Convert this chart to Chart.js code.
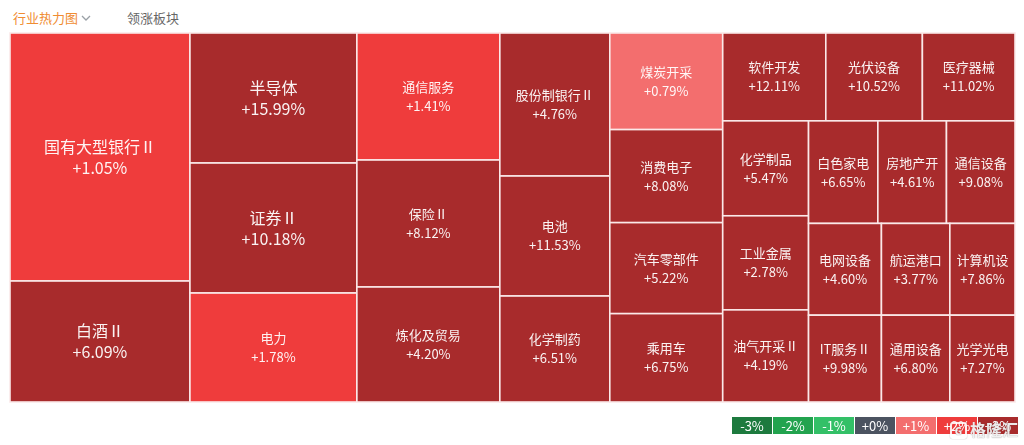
<!DOCTYPE html>
<html>
<head>
<meta charset="utf-8">
<title>行业热力图</title>
<script src="https://cdn.jsdelivr.net/npm/chart.js@4.4.1/dist/chart.umd.min.js"></script>
<style>
  html, body { margin: 0; padding: 0; background: #fff; }
  body { width: 1024px; height: 445px; position: relative; overflow: hidden;
         font-family: "Noto Sans CJK SC", "Noto Sans", sans-serif; }
  #heat { position: absolute; left: 0; top: 0; }
  .tab { position: absolute; top: 9px; font-size: 13px; line-height: 18px; }
  .tab.on { left: 13px; color: #f08c32; }
  .tab.off { left: 127px; color: #666; }
  .chev { position: absolute; left: 81px; top: 14px; }
  .scale { position: absolute; left: 732px; top: 417px; display: flex; }
  .scale span { width: 40px; height: 17px; margin-right: 1px; color: #fff; font-size: 13px;
                line-height: 17px; text-align: center; }
  .mark { position: absolute; left: 950px; top: 419px; color: rgba(255,255,255,0.88);
          font-size: 16px; line-height: 20px; font-weight: bold;
          text-shadow: 0 0 1px rgba(90,90,90,0.8); white-space: nowrap; }
  .mark b { display: inline-block; width: 13px; height: 13px; border: 2px solid rgba(255,255,255,0.88);
            border-radius: 3px; font-size: 10px; line-height: 13px; text-align: center; margin-right: 3px;
            box-shadow: 0 0 1px rgba(90,90,90,0.8); vertical-align: 1px; }
</style>
</head>
<body>
<div class="tab on">行业热力图</div>
<svg class="chev" width="10" height="8" viewBox="0 0 10 8"><path d="M1 2 L5 6 L9 2" fill="none" stroke="#9aa0a6" stroke-width="1.3"/></svg>
<div class="tab off">领涨板块</div>
<canvas id="heat" width="1024" height="445"></canvas>
<div class="scale" id="scale"></div>
<div class="mark"><b>G</b>格隆汇</div>
<script>
// Industry heat map: cell area = turnover, colour = day change bucket.
// Order matters: the squarified layout fills columns/rows in this order.
const sectors = ["国有大型银行Ⅱ", "白酒Ⅱ", "半导体", "证券Ⅱ", "电力", "通信服务", "保险Ⅱ", "炼化及贸易",
    "股份制银行Ⅱ", "电池", "化学制药", "煤炭开采", "消费电子", "汽车零部件", "乘用车",
    "软件开发", "光伏设备", "医疗器械", "化学制品", "工业金属", "油气开采Ⅱ",
    "白色家电", "房地产开发", "通信设备", "电网设备", "IT服务Ⅱ", "航运港口", "计算机设备", "通用设备", "光学光电"];
const changePct = [1.05, 6.09, 15.99, 10.18, 1.78, 1.41, 8.12, 4.20,
    4.76, 11.53, 6.51, 0.79, 8.08, 5.22, 6.75,
    12.11, 10.52, 11.02, 5.47, 2.78, 4.19,
    6.65, 4.61, 9.08, 4.60, 9.98, 3.77, 7.86, 6.80, 7.27];
const turnoverYi = [446.4, 217.8, 217.1, 217.1, 182.0, 181.6, 181.6, 164.5,
    157.3, 132.0, 116.6, 109.1, 105.1, 102.8, 99.8,
    90.6, 84.9, 81.4, 81.5, 80.8, 79.1,
    71.1, 70.4, 70.3, 66.9, 63.3, 62.8, 59.8, 59.4, 56.6];
const scaleTicks = [-3, -2, -1, 0, 1, 2, 3];
const scaleLabels = ["-3%", "-2%", "-1%", "+0%", "+1%", "+2%", "+3%"];

const scaleColors = ["#1d7a3e", "#22a34e", "#33c067", "#4b5360", "#f36e6e", "#ef3c3c", "#a82b2c"];
const AREA_W = 1005, AREA_H = 369;   // data units of the x / y scales

// bucket a change into the legend colour it belongs to (0.79 -> "+1%", 1.4 -> "+2%")
function heatColor(v) {
    if (v === 0) return scaleColors[3];
    const b = v > 0 ? Math.min(3, Math.ceil(v)) : Math.max(-3, Math.floor(v));
    return scaleColors[scaleTicks.indexOf(b)];
}

function worst(row, side) {
    const s = row.reduce((a, b) => a + b, 0);
    const mx = Math.max(...row), mn = Math.min(...row);
    return Math.max(side * side * mx / (s * s), (s * s) / (side * side * mn));
}

// plain squarified treemap (Bruls et al.), in scale units
function squarify(values, x, y, w, h) {
    const total = values.reduce((a, b) => a + b, 0);
    const areas = values.map(v => v * w * h / total);
    const out = [];
    let i = 0;
    while (i < areas.length) {
        const side = Math.min(w, h);
        const row = [areas[i]];
        let best = worst(row, side), j = i + 1;
        while (j < areas.length) {
            const next = worst(row.concat(areas[j]), side);
            if (next > best) break;
            row.push(areas[j]); best = next; j++;
        }
        const sum = row.reduce((a, b) => a + b, 0);
        if (w >= h) {
            const cw = sum / h; let cy = y;
            row.forEach(a => { const ch = a / cw; out.push({ x0: x, y0: cy, x1: x + cw, y1: cy + ch }); cy += ch; });
            x += cw; w -= cw;
        } else {
            const rh = sum / w; let cx = x;
            row.forEach(a => { const cw = a / rh; out.push({ x0: cx, y0: y, x1: cx + cw, y1: y + rh }); cx += cw; });
            y += rh; h -= rh;
        }
        i = j;
    }
    return out;
}

const cells = squarify(turnoverYi, 0, 0, AREA_W, AREA_H);

const treemapCells = {
    id: "treemapCells",
    afterDatasetsDraw(chart) {
        const ctx = chart.ctx, xs = chart.scales.x, ys = chart.scales.y;
        ctx.save();
        cells.forEach(function (c, i) {
            const l = xs.getPixelForValue(c.x0), r = xs.getPixelForValue(c.x1);
            const t = ys.getPixelForValue(c.y0), b = ys.getPixelForValue(c.y1);
            const w = r - l, h = b - t;
            ctx.fillStyle = heatColor(changePct[i]);
            ctx.fillRect(l, t, w, h);
            ctx.strokeStyle = "#fbe9e9";
            ctx.lineWidth = 1.6;
            ctx.strokeRect(l, t, w, h);

            const big = w * h >= 20000;
            const fs = big ? 16 : 13, gap = big ? 21 : 19;
            ctx.font = fs + 'px "Noto Sans CJK SC", "Noto Sans", sans-serif';
            ctx.fillStyle = "rgba(255,255,255,0.94)";
            ctx.textAlign = "center";
            ctx.textBaseline = "middle";
            let name = sectors[i];
            while (name.length > 1 && ctx.measureText(name).width > w - 6) name = name.slice(0, -1);
            const v = changePct[i];
            const label = (v >= 0 ? "+" : "") + v.toFixed(2) + "%";
            const cx = l + w / 2, cy = t + h / 2;
            ctx.fillText(name, cx, cy - gap / 2);
            ctx.fillText(label, cx, cy + gap / 2);
        });
        ctx.restore();
    }
};

new Chart(document.getElementById("heat"), {
    type: "scatter",
    data: {
        datasets: [{
            label: "行业",
            data: cells.map(c => ({ x: (c.x0 + c.x1) / 2, y: (c.y0 + c.y1) / 2 })),
            pointRadius: 0, pointHoverRadius: 0
        }]
    },
    options: {
        responsive: false, maintainAspectRatio: false, animation: false,
        layout: { padding: { left: 10, top: 33, right: 9, bottom: 43 } },
        scales: {
            x: { type: "linear", display: false, min: 0, max: AREA_W },
            y: { type: "linear", display: false, min: 0, max: AREA_H, reverse: true }
        },
        plugins: {
            legend: { display: false },
            tooltip: {
                callbacks: {
                    label: item => sectors[item.dataIndex] + " " + changePct[item.dataIndex].toFixed(2) + "%"
                }
            }
        }
    },
    plugins: [treemapCells]
});

const scaleEl = document.getElementById("scale");
scaleLabels.forEach(function (t, i) {
    const s = document.createElement("span");
    s.textContent = t;
    s.style.background = scaleColors[i];
    scaleEl.appendChild(s);
});
</script>
</body>
</html>
